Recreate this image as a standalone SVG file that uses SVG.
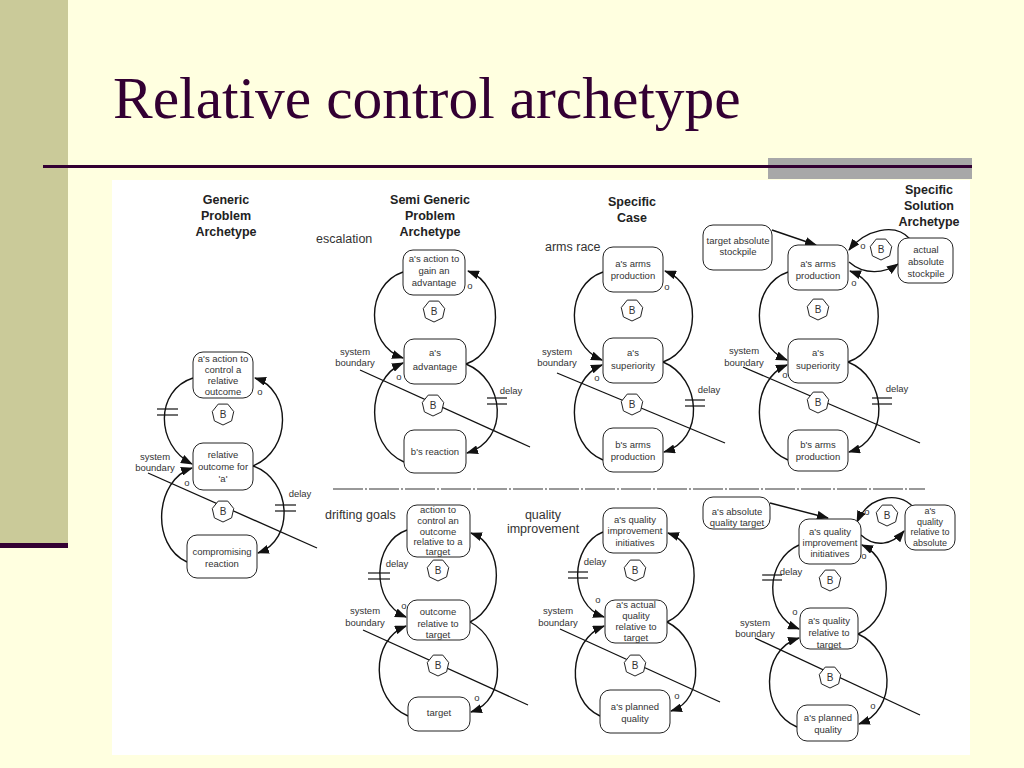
<svg xmlns="http://www.w3.org/2000/svg" xmlns:xlink="http://www.w3.org/1999/xlink" width="1024" height="768" viewBox="0 0 1024 768">
<style>
.nd rect{fill:#fff;stroke:#222;stroke-width:1}
.nd text,.tx{font-family:"Liberation Sans",Arial,sans-serif;font-size:9.5px;fill:#333;text-anchor:middle}
.sm text{font-size:9px}
.c{fill:none;stroke:#111;stroke-width:1.4}
.a{marker-end:url(#ah)}
.bar{stroke:#111;stroke-width:1.2}
.bnd{stroke:#111;stroke-width:1.3}
.ttl{font-family:"Liberation Sans",Arial,sans-serif;font-weight:bold;font-size:12.5px;fill:#222;text-anchor:middle}
.cap{font-family:"Liberation Sans",Arial,sans-serif;font-size:12.5px;fill:#333}
.hep{fill:#fff;stroke:#222;stroke-width:1}
.bt{font-family:"Liberation Sans",Arial,sans-serif;font-size:10px;fill:#333;text-anchor:middle}
</style>
<defs>
<marker id="ah" markerUnits="userSpaceOnUse" markerWidth="12" markerHeight="9" refX="11" refY="4.5" orient="auto">
<path d="M0,0 L12,4.5 L0,9 z" fill="#111"/>
</marker>
<g id="hept">
<polygon class="hep" points="0,11 -8.6,6.86 -10.72,-2.45 -4.77,-9.91 4.77,-9.91 10.72,-2.45 8.6,6.86"/>
<text class="bt" x="0" y="3.6">B</text>
</g>
</defs>
<rect width="1024" height="768" fill="#FFFFE0"/>
<rect x="0" y="0" width="68" height="545" fill="#CACA99"/>
<rect x="0" y="543" width="68" height="5" fill="#330033"/>
<rect x="768" y="158" width="204" height="21" fill="#A8A8A8"/>
<line x1="43" y1="166.5" x2="972" y2="166.5" stroke="#330033" stroke-width="3"/>
<text x="113" y="118" font-family="Liberation Serif,'Times New Roman',serif" font-size="59.5" fill="#330033">Relative control archetype</text>
<rect x="112" y="180" width="858" height="575" fill="#fff"/>

<g id="titles">
<text class="ttl" x="226" y="204">Generic</text>
<text class="ttl" x="226" y="220">Problem</text>
<text class="ttl" x="226" y="236">Archetype</text>
<text class="ttl" x="430" y="204">Semi Generic</text>
<text class="ttl" x="430" y="220">Problem</text>
<text class="ttl" x="430" y="236">Archetype</text>
<text class="ttl" x="632" y="206">Specific</text>
<text class="ttl" x="632" y="222">Case</text>
<text class="ttl" x="929" y="194">Specific</text>
<text class="ttl" x="929" y="210">Solution</text>
<text class="ttl" x="929" y="226">Archetype</text>
<text class="cap" x="316" y="243">escalation</text>
<text class="cap" x="545" y="251">arms race</text>
<text class="cap" x="325" y="519">drifting goals</text>
<text class="cap" x="543" y="519" text-anchor="middle">quality</text>
<text class="cap" x="543" y="533" text-anchor="middle">improvement</text>
</g>

<g id="labels">
<text class="tx" x="155" y="460">system</text><text class="tx" x="155" y="471">boundary</text>
<text class="tx" x="300" y="497">delay</text>
<text class="tx" x="260" y="395">o</text><text class="tx" x="187" y="486">o</text>
<text class="tx" x="355" y="355">system</text><text class="tx" x="355" y="366">boundary</text>
<text class="tx" x="511" y="394">delay</text>
<text class="tx" x="470" y="289">o</text><text class="tx" x="399" y="380">o</text>
<text class="tx" x="557" y="355">system</text><text class="tx" x="557" y="366">boundary</text>
<text class="tx" x="709" y="393">delay</text>
<text class="tx" x="667" y="290">o</text><text class="tx" x="597" y="381">o</text>
<text class="tx" x="744" y="354">system</text><text class="tx" x="744" y="366">boundary</text>
<text class="tx" x="897" y="392">delay</text>
<text class="tx" x="854" y="286">o</text><text class="tx" x="785" y="378">o</text>
<text class="tx" x="863" y="249">o</text>
<text class="tx" x="365" y="614">system</text><text class="tx" x="365" y="626">boundary</text>
<text class="tx" x="397" y="567">delay</text>
<text class="tx" x="404" y="609">o</text><text class="tx" x="477" y="701">o</text>
<text class="tx" x="558" y="614">system</text><text class="tx" x="558" y="626">boundary</text>
<text class="tx" x="595" y="565">delay</text>
<text class="tx" x="598" y="603">o</text><text class="tx" x="677" y="699">o</text>
<text class="tx" x="755" y="626">system</text><text class="tx" x="755" y="637">boundary</text>
<text class="tx" x="791" y="575">delay</text>
<text class="tx" x="795" y="615">o</text><text class="tx" x="873" y="709">o</text>
<text class="tx" x="864" y="559">o</text><text class="tx" x="867" y="515">o</text>
</g>

<g id="connectors">
<line x1="333" y1="489" x2="925" y2="489" stroke="#333" stroke-width="1" stroke-dasharray="30 2 2 2"/>
<path class="c a" d="M193,378 C155,390 155,445 192,464"/>
<path class="c a" d="M253,466 C292,450 292,390 255,378"/>
<path class="c a" d="M253,466 C292,480 295,540 258,553"/>
<path class="c a" d="M187,562 C150,545 155,480 192,468"/>
<line class="bar" x1="157" y1="409" x2="178" y2="409"/><line class="bar" x1="157" y1="415" x2="178" y2="415"/>
<line class="bar" x1="275" y1="505" x2="296" y2="505"/><line class="bar" x1="275" y1="511" x2="296" y2="511"/>
<line class="bnd" x1="148" y1="473" x2="317" y2="548"/>
<path class="c a" d="M403,272 C365,285 365,345 403,358"/>
<path class="c a" d="M466,364 C505,350 505,285 468,271"/>
<path class="c a" d="M466,364 C505,380 510,440 467,453"/>
<path class="c a" d="M404,462 C365,445 365,380 403,363"/>
<line class="bar" x1="487" y1="398" x2="507" y2="398"/><line class="bar" x1="487" y1="404" x2="507" y2="404"/>
<line class="bnd" x1="360" y1="370" x2="530" y2="447"/>
<path class="c a" d="M603,272 C565,285 565,345 602,360"/>
<path class="c a" d="M663,362 C702,348 702,285 665,271"/>
<path class="c a" d="M663,362 C702,378 705,440 664,452"/>
<path class="c a" d="M603,460 C565,445 565,380 602,365"/>
<line class="bar" x1="685" y1="400" x2="705" y2="400"/><line class="bar" x1="685" y1="406" x2="705" y2="406"/>
<line class="bnd" x1="557" y1="373" x2="725" y2="443"/>
<path class="c a" d="M772,230 L816,245"/>
<path class="c a" d="M910,239 C895,222 865,230 849,250"/>
<path class="c a" d="M849,262 C865,276 885,273 898,264"/>
<path class="c a" d="M788,272 C750,285 750,345 787,360"/>
<path class="c a" d="M848,362 C888,348 888,285 850,271"/>
<path class="c a" d="M848,362 C888,378 890,440 849,452"/>
<path class="c a" d="M788,460 C750,445 750,380 787,365"/>
<line class="bar" x1="872" y1="398" x2="892" y2="398"/><line class="bar" x1="872" y1="404" x2="892" y2="404"/>
<line class="bnd" x1="743" y1="367" x2="920" y2="443"/>
<path class="c a" d="M407,530 C372,542 370,602 406,617"/>
<path class="c a" d="M470,622 C505,605 505,545 471,533"/>
<path class="c a" d="M470,622 C505,640 508,700 471,712"/>
<path class="c a" d="M408,716 C370,700 370,640 406,626"/>
<line class="bar" x1="368" y1="573" x2="390" y2="573"/><line class="bar" x1="368" y1="579" x2="390" y2="579"/>
<line class="bnd" x1="363" y1="630" x2="528" y2="705"/>
<path class="c a" d="M603,532 C570,545 568,605 604,617"/>
<path class="c a" d="M667,622 C703,605 703,545 668,533"/>
<path class="c a" d="M667,622 C703,640 706,700 671,711"/>
<path class="c a" d="M600,716 C565,700 568,640 604,626"/>
<line class="bar" x1="568" y1="572" x2="588" y2="572"/><line class="bar" x1="568" y1="578" x2="588" y2="578"/>
<line class="bnd" x1="560" y1="629" x2="720" y2="702"/>
<path class="c a" d="M770,503 L828,518"/>
<path class="c a" d="M913,507 C898,490 868,497 857,522"/>
<path class="c a" d="M861,535 C875,548 892,545 904,531"/>
<path class="c a" d="M799,545 C765,560 763,615 799,629"/>
<path class="c a" d="M858,634 C895,617 895,560 862,545"/>
<path class="c a" d="M858,634 C895,650 898,710 859,724"/>
<path class="c a" d="M797,727 C760,712 760,650 799,638"/>
<line class="bar" x1="762" y1="575" x2="782" y2="575"/><line class="bar" x1="762" y1="580" x2="782" y2="580"/>
<line class="bnd" x1="755" y1="638" x2="920" y2="715"/>
</g>

<g id="loops">
<use xlink:href="#hept" x="223" y="414"/><use xlink:href="#hept" x="223" y="511"/>
<use xlink:href="#hept" x="434" y="311"/><use xlink:href="#hept" x="433" y="405"/>
<use xlink:href="#hept" x="632" y="310"/><use xlink:href="#hept" x="632" y="404"/>
<use xlink:href="#hept" x="818" y="309"/><use xlink:href="#hept" x="818" y="402"/><use xlink:href="#hept" x="881" y="249"/>
<use xlink:href="#hept" x="438" y="570"/><use xlink:href="#hept" x="438" y="665"/>
<use xlink:href="#hept" x="635" y="570"/><use xlink:href="#hept" x="635" y="665"/>
<use xlink:href="#hept" x="830" y="580"/><use xlink:href="#hept" x="830" y="677"/><use xlink:href="#hept" x="887" y="515"/>
</g>

<g id="n1a" class="nd"><rect x="193" y="352" width="60" height="46" rx="10"/><text x="223" y="362">a's action to</text><text x="223" y="373">control a</text><text x="223" y="384">relative</text><text x="223" y="395">outcome</text></g>
<g id="n1b" class="nd"><rect x="193" y="443" width="60" height="47" rx="10"/><text x="223" y="458">relative</text><text x="223" y="470">outcome for</text><text x="223" y="482">'a'</text></g>
<g id="n1c" class="nd"><rect x="187" y="535" width="70" height="43" rx="10"/><text x="222" y="555">compromising</text><text x="222" y="567">reaction</text></g>

<g id="n2a" class="nd"><rect x="403" y="250" width="62" height="45" rx="10"/><text x="434" y="262">a's action to</text><text x="434" y="274">gain an</text><text x="434" y="286">advantage</text></g>
<g id="n2b" class="nd"><rect x="404" y="339" width="62" height="45" rx="10"/><text x="435" y="356">a's</text><text x="435" y="370">advantage</text></g>
<g id="n2c" class="nd"><rect x="404" y="430" width="62" height="43" rx="10"/><text x="435" y="455">b's reaction</text></g>

<g id="n3a" class="nd"><rect x="603" y="247" width="60" height="45" rx="10"/><text x="633" y="267">a's arms</text><text x="633" y="279">production</text></g>
<g id="n3b" class="nd"><rect x="603" y="338" width="60" height="45" rx="10"/><text x="633" y="356">a's</text><text x="633" y="369">superiority</text></g>
<g id="n3c" class="nd"><rect x="603" y="428" width="60" height="44" rx="10"/><text x="633" y="448">b's arms</text><text x="633" y="460">production</text></g>

<g id="n4t" class="nd"><rect x="703" y="225" width="69" height="45" rx="10"/><text x="738" y="244">target absolute</text><text x="738" y="255">stockpile</text></g>
<g id="n4a" class="nd"><rect x="788" y="245" width="60" height="45" rx="10"/><text x="818" y="267">a's arms</text><text x="818" y="279">production</text></g>
<g id="n4s" class="nd"><rect x="898" y="238" width="55" height="45" rx="10"/><text x="926" y="253">actual</text><text x="926" y="265">absolute</text><text x="926" y="277">stockpile</text></g>
<g id="n4b" class="nd"><rect x="788" y="339" width="60" height="44" rx="10"/><text x="818" y="356">a's</text><text x="818" y="369">superiority</text></g>
<g id="n4c" class="nd"><rect x="788" y="430" width="60" height="41" rx="10"/><text x="818" y="448">b's arms</text><text x="818" y="460">production</text></g>

<g id="n5a" class="nd"><rect x="407" y="505" width="63" height="52" rx="10"/><text x="438" y="513">action to</text><text x="438" y="524">control an</text><text x="438" y="535">outcome</text><text x="438" y="545">relative to a</text><text x="438" y="555">target</text></g>
<g id="n5b" class="nd"><rect x="407" y="600" width="63" height="40" rx="10"/><text x="438" y="615">outcome</text><text x="438" y="627">relative to</text><text x="438" y="638">target</text></g>
<g id="n5c" class="nd"><rect x="408" y="697" width="62" height="34" rx="10"/><text x="439" y="716">target</text></g>

<g id="n6a" class="nd"><rect x="603" y="508" width="64" height="45" rx="10"/><text x="635" y="523">a's quality</text><text x="635" y="534">improvement</text><text x="635" y="546">initiatives</text></g>
<g id="n6b" class="nd"><rect x="605" y="600" width="62" height="43" rx="10"/><text x="636" y="608">a's actual</text><text x="636" y="619">quality</text><text x="636" y="630">relative to</text><text x="636" y="641">target</text></g>
<g id="n6c" class="nd"><rect x="600" y="690" width="70" height="43" rx="10"/><text x="635" y="710">a's planned</text><text x="635" y="722">quality</text></g>

<g id="n7t" class="nd"><rect x="703" y="497" width="67" height="32" rx="10"/><text x="737" y="515">a's absolute</text><text x="737" y="526">quality target</text></g>
<g id="n7a" class="nd"><rect x="799" y="519" width="62" height="45" rx="10"/><text x="830" y="535">a's quality</text><text x="830" y="546">improvement</text><text x="830" y="557">initiatives</text></g>
<g id="n7r" class="nd sm"><rect x="905" y="505" width="50" height="45" rx="10"/><text x="930" y="514">a's</text><text x="930" y="525">quality</text><text x="930" y="535">relative to</text><text x="930" y="546">absolute</text></g>
<g id="n7b" class="nd"><rect x="800" y="608" width="58" height="41" rx="10"/><text x="829" y="624">a's quality</text><text x="829" y="636">relative to</text><text x="829" y="648">target</text></g>
<g id="n7c" class="nd"><rect x="797" y="705" width="61" height="36" rx="10"/><text x="828" y="721">a's planned</text><text x="828" y="733">quality</text></g>
</svg>
